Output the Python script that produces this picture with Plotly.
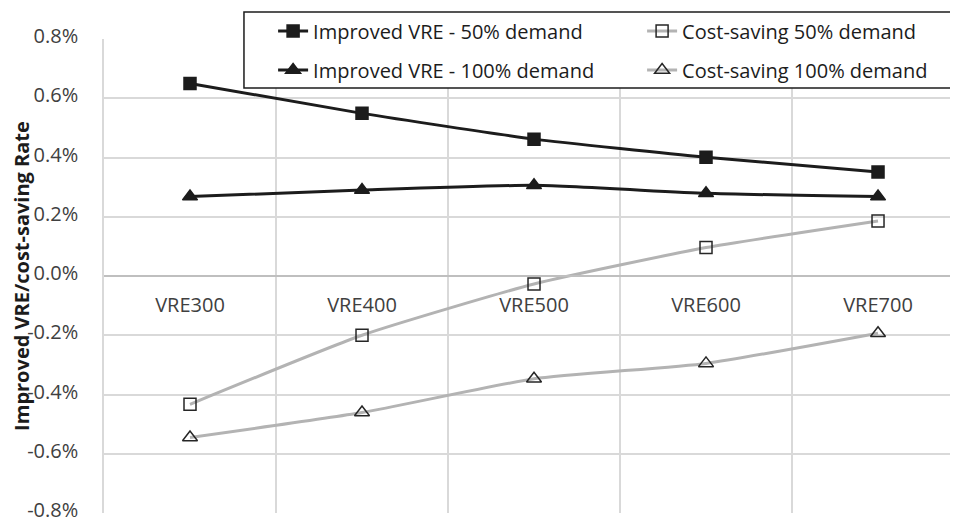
import plotly.graph_objects as go

# Data
categories = ['VRE300', 'VRE400', 'VRE500', 'VRE600', 'VRE700']
improved_50 = [0.650, 0.549, 0.462, 0.401, 0.351]      # %
improved_100 = [0.268, 0.290, 0.306, 0.279, 0.268]     # %
cost_50 = [-0.433, -0.200, -0.027, 0.096, 0.186]       # %
cost_100 = [-0.545, -0.461, -0.347, -0.295, -0.193]    # %
y_ticks = [-0.8, -0.6, -0.4, -0.2, 0.0, 0.2, 0.4, 0.6, 0.8]
y_labels = ['-0.8%', '-0.6%', '-0.4%', '-0.2%', '0.0%', '0.2%', '0.4%', '0.6%', '0.8%']

FONT = 'Open Sans'
TEXT = '#404040'
GRID = '#d9d9d9'

fig = go.Figure()

# baris 1 legend -> 'legend', baris 2 -> 'legend2'
series = [
    ('Improved VRE - 50% demand', improved_50, '#1c1c1c', 'square', '#1c1c1c', 'legend'),
    ('Cost-saving 50% demand', cost_50, '#b3b3b3', 'square-open', '#262626', 'legend'),
    ('Improved VRE - 100% demand', improved_100, '#1c1c1c', 'triangle-up', '#1c1c1c', 'legend2'),
    ('Cost-saving 100% demand', cost_100, '#b3b3b3', 'triangle-up-open', '#262626', 'legend2'),
]

for name, vals, lc, sym, mc, lg in series:
    fig.add_trace(go.Scatter(
        x=categories,
        y=vals,
        name=name,
        legend=lg,
        mode='lines+markers',
        line=dict(color=lc, width=3, shape='spline', smoothing=0.5),
        marker=dict(symbol=sym, size=12 if 'square' in sym else 13,
                    color=mc, line=dict(color=mc, width=1.5)),
    ))

legend_common = dict(
    orientation='h',
    xanchor='left',
    yanchor='middle',
    entrywidth=324, entrywidthmode='pixels',
    bgcolor='rgba(0,0,0,0)',
    borderwidth=0,
    font=dict(family=FONT, size=20, color='#1c1c1c'),
)

# margin dikurangi 8px karena body html punya margin 8px
fig.update_layout(
    width=958,
    height=522,
    margin=dict(l=96, r=8, t=31, b=17, autoexpand=False),
    plot_bgcolor='white',
    paper_bgcolor='white',
    font=dict(family=FONT, size=20, color=TEXT),
    legend=dict(legend_common, x=0.198, y=1.0169),
    legend2=dict(legend_common, x=0.198, y=0.9346),
    xaxis=dict(
        type='category',
        range=[-0.5, 4.465],
        anchor='free', position=0.5,
        tickson='boundaries',
        ticks='',
        showgrid=True, gridcolor=GRID, gridwidth=1.5,
        showline=True, linecolor='#bfbfbf', linewidth=1.5,
        ticklabelstandoff=11,
        tickfont=dict(family=FONT, size=20, color=TEXT),
    ),
    yaxis=dict(
        range=[-0.8, 0.8],
        tickmode='array',
        tickvals=y_ticks,
        ticktext=y_labels,
        showgrid=True, gridcolor=GRID, gridwidth=1.5,
        zeroline=False,
        showline=True, linecolor=GRID, linewidth=1.5,
        ticks='',
        ticklabelstandoff=20,
        ticklabelshift=-3,
        tickfont=dict(family=FONT, size=20, color=TEXT),
        title=dict(text='<b>Improved VRE/cost-saving Rate</b>',
                   font=dict(family=FONT, size=20, color='#1c1c1c'),
                   standoff=6),
    ),
    # kotak legend
    shapes=[dict(type='rect', xref='paper', yref='paper',
                 x0=0.1639, x1=1.01, y0=0.8966, y1=1.057,
                 line=dict(color='#1c1c1c', width=1.5),
                 fillcolor='white', layer='above')],
)

fig.write_html("out.html")
